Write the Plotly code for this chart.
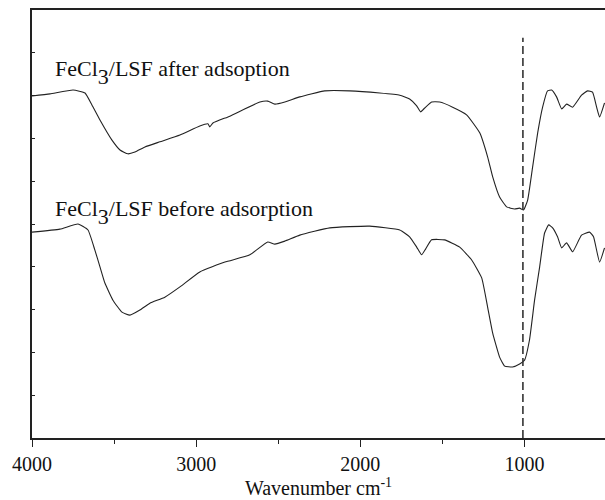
import plotly.graph_objects as go

# Wavenumber (cm^-1) and transmittance (arbitrary units)
wn_after = [4000, 3890, 3750, 3677, 3635, 3586, 3513, 3464, 3416, 3373, 3312, 3221, 3099, 2978,
            2929, 2917, 2898, 2795, 2612, 2564, 2521, 2460, 2369, 2217, 2065, 1882, 1760, 1700,
            1657, 1633, 1608, 1566, 1517, 1438, 1353, 1273, 1225, 1194, 1152, 1109, 1061, 1030,
            1006, 981, 951, 920, 890, 860, 835, 805, 774, 744, 707, 653, 616, 586, 561, 543, 513]
t_after = [7.99, 8.04, 8.13, 8.06, 7.78, 7.43, 6.96, 6.73, 6.64, 6.68, 6.80, 6.92, 7.08, 7.29,
           7.34, 7.27, 7.36, 7.52, 7.85, 7.87, 7.80, 7.85, 7.97, 8.11, 8.11, 8.06, 8.01, 7.92,
           7.76, 7.62, 7.71, 7.85, 7.85, 7.73, 7.55, 7.13, 6.57, 6.10, 5.63, 5.40, 5.35, 5.37,
           5.33, 5.56, 6.33, 7.13, 7.73, 8.11, 8.13, 7.97, 7.69, 7.80, 7.73, 8.01, 8.11, 8.08,
           7.73, 7.50, 7.83]

wn_before = [4000, 3830, 3720, 3659, 3617, 3586, 3556, 3507, 3452, 3404, 3343, 3282, 3191, 3099,
             2978, 2825, 2673, 2564, 2521, 2460, 2369, 2186, 1943, 1760, 1700, 1657, 1627, 1602,
             1566, 1487, 1395, 1322, 1261, 1225, 1194, 1152, 1121, 1073, 1030, 1000, 970, 939,
             908, 878, 853, 829, 799, 774, 744, 707, 653, 604, 580, 543, 513]
t_before = [4.81, 4.88, 5.00, 4.86, 4.39, 4.00, 3.62, 3.22, 2.94, 2.87, 2.99, 3.15, 3.29, 3.53,
            3.88, 4.11, 4.28, 4.58, 4.53, 4.60, 4.74, 4.91, 4.95, 4.86, 4.70, 4.46, 4.28, 4.42,
            4.63, 4.63, 4.46, 4.16, 3.74, 3.06, 2.45, 1.89, 1.68, 1.66, 1.73, 1.82, 2.29, 3.22,
            4.00, 4.79, 4.98, 4.91, 4.70, 4.44, 4.56, 4.35, 4.74, 4.81, 4.70, 4.11, 4.44]

marker_wn = [1010, 1010]
marker_t = [0, 9.35]

x_ticks = [4000, 3000, 2000, 1000]
label_after = "FeCl<sub><sub><span style='font-size:22px'>3</span></sub></sub>/LSF after adsoption"
label_before = "FeCl<sub><sub><span style='font-size:22px'>3</span></sub></sub>/LSF before adsorption"

fig = go.Figure()
fig.add_trace(go.Scatter(x=wn_after, y=t_after, mode="lines",
                         line=dict(color="#222", width=1.1, shape="spline", smoothing=0.4),
                         showlegend=False))
fig.add_trace(go.Scatter(x=wn_before, y=t_before, mode="lines",
                         line=dict(color="#222", width=1.1, shape="spline", smoothing=0.4),
                         showlegend=False))
fig.add_trace(go.Scatter(x=marker_wn, y=marker_t, mode="lines",
                         line=dict(color="#333", width=1.6, dash="8px,4px"),
                         showlegend=False))

font_family = "Liberation Serif"
fig.add_annotation(x=3870, y=8.55, text=label_after, showarrow=False, xanchor="left",
                   yanchor="middle", font=dict(family=font_family, size=22, color="#111"))
fig.add_annotation(x=3870, y=5.26, text=label_before, showarrow=False, xanchor="left",
                   yanchor="middle", font=dict(family=font_family, size=22, color="#111"))

fig.update_layout(
    width=605, height=500,
    margin=dict(l=32, r=0, t=10, b=62),
    plot_bgcolor="white", paper_bgcolor="white",
    font=dict(family=font_family, color="#111"),
)
fig.update_xaxes(range=[4000, 510], tickvals=x_ticks, ticks="outside", ticklen=7,
                 tickwidth=1.3, tickcolor="#222",
                 minor=dict(dtick=500, ticks="outside", ticklen=4, tickcolor="#222", tickwidth=1.3),
                 showline=True, linecolor="#222", linewidth=1.5, mirror=True,
                 showgrid=False, zeroline=False,
                 tickfont=dict(size=20, family=font_family, color="#111"),
                 title=dict(text="Wavenumber cm<sup>-1</sup>",
                            font=dict(size=20, family=font_family, color="#111"),
                            standoff=6))
fig.update_yaxes(range=[0, 10], dtick=1, ticks="inside", ticklen=3, tickcolor="#222",
                 showticklabels=False, showline=True, linecolor="#222", linewidth=1.5,
                 showgrid=False, zeroline=False)

fig.write_html("out.html")
